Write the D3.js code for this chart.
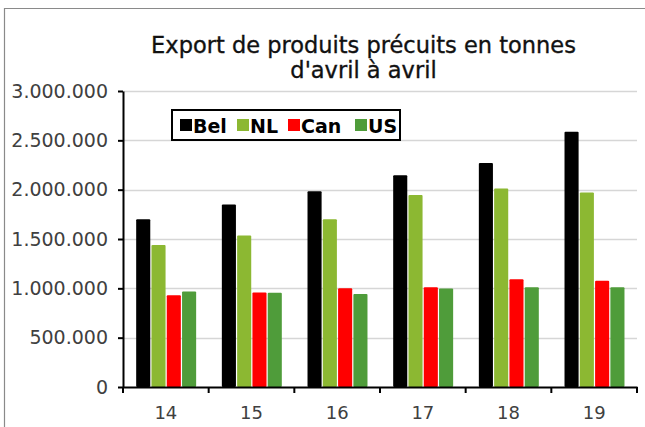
<!DOCTYPE html>
<html>
<head>
<meta charset="UTF-8">
<title>Export de produits précuits</title>
<script src="https://cdn.jsdelivr.net/npm/d3@7"></script>
<style>
  body { margin: 0; background: #fff; }
  svg { display: block; font-family: "DejaVu Sans", sans-serif; }
</style>
</head>
<body>
<svg width="645" height="427"></svg>
<script>
// data
const years = ["14", "15", "16", "17", "18", "19"];
const seriesNames = ["Bel", "NL", "Can", "US"];
const bel = [1700000, 1850000, 1985000, 2145000, 2270000, 2588000];
const nl = [1440000, 1535000, 1700000, 1945000, 2012000, 1972000];
const can = [930000, 958000, 1000000, 1010000, 1093000, 1078000];
const us = [967000, 955000, 943000, 998000, 1010000, 1010000];
const yTicks = [0, 500000, 1000000, 1500000, 2000000, 2500000, 3000000];
const colors = ["#000000", "#8cb832", "#ff0000", "#4f9c3a"];

const values = [bel, nl, can, us];
const rows = years.map((yr, i) => ({
  year: yr,
  vals: seriesNames.map((s, j) => ({ key: s, value: values[j][i] }))
}));

const svg = d3.select("svg");
const plotL = 123, plotR = 637, plotT = 91, plotB = 387;

// frame of the chart area (extends past the window at right and bottom)
svg.append("path")
  .attr("d", "M4.5,440V8.5H660")
  .attr("fill", "none")
  .attr("stroke", "#8a8a8a")
  .attr("stroke-width", 1.2);

const x0 = d3.scaleBand().domain(years).range([plotL, plotR]).padding(0);
const x1 = d3.scaleBand().domain(seriesNames)
  .range([x0.bandwidth() * 0.148, x0.bandwidth() * 0.862]).padding(0);
const y = d3.scaleLinear().domain([0, 3000000]).range([plotB, plotT]);
const color = d3.scaleOrdinal().domain(seriesNames).range(colors);

const fr = d3.formatLocale({ decimal: ",", thousands: ".", grouping: [3], currency: ["", ""] });
const fmt = fr.format(",.0f");

// gridlines
svg.append("g")
  .selectAll("line")
  .data(yTicks.filter(d => d > 0))
  .join("line")
  .attr("x1", plotL).attr("x2", plotR)
  .attr("y1", d => Math.round(y(d)) + 0.5)
  .attr("y2", d => Math.round(y(d)) + 0.5)
  .attr("stroke", "#d6d6d6")
  .attr("stroke-width", 1.5);

// bars
svg.append("g")
  .selectAll("g")
  .data(rows)
  .join("g")
  .attr("transform", d => `translate(${x0(d.year)},0)`)
  .selectAll("rect")
  .data(d => d.vals)
  .join("rect")
  .attr("x", d => x1(d.key) + 0.5)
  .attr("width", x1.bandwidth() - 1.2)
  .attr("y", d => y(d.value))
  .attr("height", d => y(0) - y(d.value))
  .attr("rx", 1)
  .attr("fill", d => color(d.key));

// y axis
const yAxis = svg.append("g")
  .attr("transform", `translate(${plotL},0)`)
  .call(d3.axisLeft(y).tickValues(yTicks).tickFormat(fmt).tickSize(5).tickSizeOuter(0));
yAxis.select(".domain").attr("stroke", "#000").attr("stroke-width", 2);
yAxis.selectAll(".tick line").attr("stroke", "#000").attr("stroke-width", 2);
yAxis.selectAll(".tick text")
  .attr("x", -15)
  .attr("fill", "#404040")
  .style("font-size", "19px")
  .style("font-family", "DejaVu Sans, sans-serif");

// x axis
const xAxis = svg.append("g")
  .attr("transform", `translate(0,${plotB})`)
  .call(d3.axisBottom(x0).tickSize(0).tickSizeOuter(0));
xAxis.select(".domain").attr("stroke", "#000").attr("stroke-width", 2);
xAxis.selectAll(".tick text")
  .attr("dy", "0")
  .attr("y", 32)
  .attr("fill", "#404040")
  .style("font-size", "18px")
  .style("font-family", "DejaVu Sans, sans-serif");
xAxis.selectAll(".bound")
  .data(years.concat(["end"]))
  .join("line")
  .attr("class", "bound")
  .attr("x1", (d, i) => x0.step() * i + plotL)
  .attr("x2", (d, i) => x0.step() * i + plotL)
  .attr("y1", 0).attr("y2", 6)
  .attr("stroke", "#000")
  .attr("stroke-width", 2);

// title
const title = svg.append("text")
  .attr("text-anchor", "middle")
  .attr("fill", "#111")
  .attr("stroke", "#111")
  .attr("stroke-width", 0.35)
  .style("font-size", "22.5px");
title.append("tspan").attr("x", 363.5).attr("y", 53).text("Export de produits précuits en tonnes");
title.append("tspan").attr("x", 363.5).attr("y", 78).text("d'avril à avril");

// legend
const lg = svg.append("g");
lg.append("rect")
  .attr("x", 172).attr("y", 110)
  .attr("width", 228).attr("height", 30)
  .attr("fill", "#fff")
  .attr("stroke", "#000")
  .attr("stroke-width", 2);
const legendX = [180, 237, 288, 355];
const items = lg.selectAll(".item")
  .data(seriesNames)
  .join("g")
  .attr("class", "item")
  .attr("transform", (d, i) => `translate(${legendX[i]},125)`);
items.append("rect")
  .attr("x", 0).attr("y", -6)
  .attr("width", 12).attr("height", 12)
  .attr("fill", d => color(d));
items.append("text")
  .attr("x", 13).attr("y", 7.5)
  .attr("fill", "#000")
  .style("font-size", "19px")
  .style("font-weight", "bold")
  .text(d => d);
</script>
</body>
</html>
